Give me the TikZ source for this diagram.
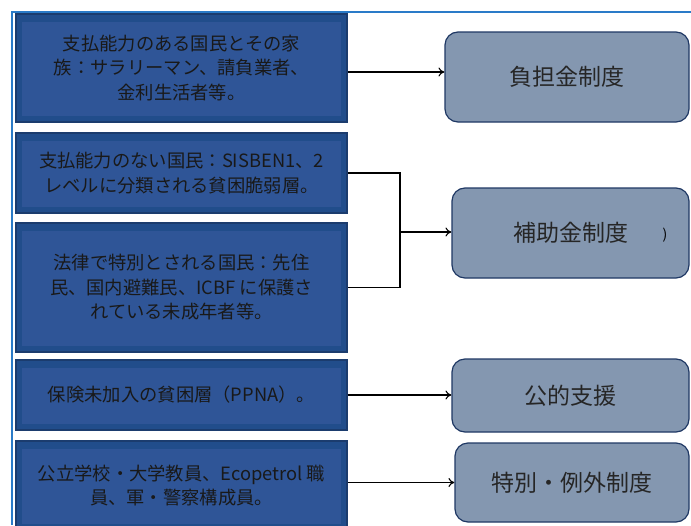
\documentclass[tikz,border=0pt]{standalone}
\usepackage{fontspec}
\newfontfamily\jp{Noto Sans CJK JP}
\usetikzlibrary{arrows.meta,positioning}
\definecolor{azulborde}{HTML}{1B3C6E}
\definecolor{azulfondo}{HTML}{214D8B}
\definecolor{azulclaro}{HTML}{2F5597}
\definecolor{marino}{HTML}{1F3864}
\definecolor{gris}{HTML}{8497B0}
\definecolor{marco}{HTML}{2A7BC8}
\tikzset{
	grupo/.style={draw=azulborde, line width=1.2pt, fill=azulfondo, minimum width=331pt,
		inner sep=0pt, align=center, text=black!90,
		font=\jp\fontsize{18.3pt}{24.5pt}\selectfont,
		path picture={\fill[azulclaro] ([shift={(6pt,6pt)}]path picture bounding box.south west)
			rectangle ([shift={(-6pt,-8pt)}]path picture bounding box.north east);}},
	regimen/.style={draw=marino, line width=1.2pt, fill=gris, rounded corners=13pt,
		text=black!85, font=\jp\fontsize{23pt}{26pt}\selectfont},
	pfeil/.style={-{To[length=6pt,width=9pt,line width=1.1pt]}, line width=1.2pt}
}

\begin{document}
\begin{tikzpicture}[x=1pt,y=-1pt]
	\useasboundingbox[fill=white] (0,0) rectangle (691,525);
	\coordinate (ecke) at (12,12);
	\draw[marco, line width=1.3pt] (691,12) -- (ecke) -- (12,525);
	
	\node[grupo, minimum height=108pt] (capaces) at (181.5,68) {支払能力のある国民とその家\\族：サラリーマン、請負業者、\\金利生活者等。};
	\node[grupo, minimum height=80pt] (sisben) at (181.5,173) {支払能力のない国民：SISBEN1、2\\レベルに分類される貧困脆弱層。};
	\node[grupo, minimum height=129pt] (ley) at (181.5,287.5) {法律で特別とされる国民：先住\\民、国内避難民、ICBF に保護さ\\れている未成年者等。};
	\node[grupo, minimum height=70pt] (ppna) at (181.5,395) {保険未加入の貧困層（PPNA）。};
	\node[grupo, minimum height=89pt] (docentes) at (181.5,485.5) {公立学校・大学教員、Ecopetrol 職\\員、軍・警察構成員。};
	
	\node[regimen, minimum width=244pt, minimum height=90pt] (contributivo) at (567,77) {負担金制度};
	\node[regimen, minimum width=237pt, minimum height=90pt] (subsidiado) at (570.5,233) {補助金制度};
	\node[font=\jp\fontsize{14pt}{16pt}\selectfont] (klammer) at (665,235) {)};
	\node[regimen, minimum width=237pt, minimum height=73pt] (vinculado) at (570.5,395.5) {公的支援};
	\node[regimen, minimum width=234pt, minimum height=79pt] (especial) at (572,482.5) {特別・例外制度};
	
	% Verbindungen
	\coordinate (knoten) at (400,232);
	\draw[pfeil] ([yshift=-4pt]capaces.east) -- ([yshift=-4pt]capaces.east -| contributivo.west);
	\draw[line width=1.2pt] (sisben.east) -| (knoten) |- (ley.east);
	\draw[pfeil] (knoten) -- (knoten -| subsidiado.west);
	\draw[pfeil] (ppna.east) -- (ppna.east -| vinculado.west);
	\draw[pfeil] (docentes.east |- especial.west) -- (especial.west);
\end{tikzpicture}
\end{document}
